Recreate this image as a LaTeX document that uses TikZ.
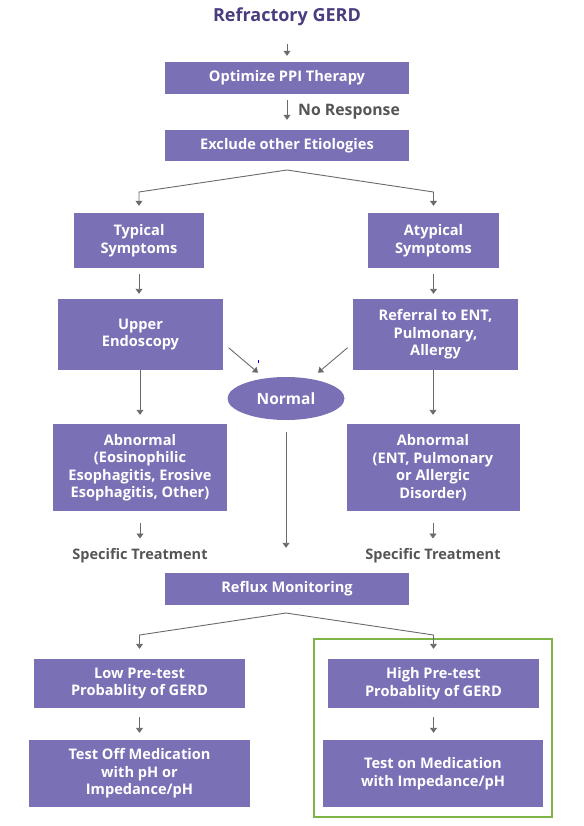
\documentclass[tikz,border=0pt]{standalone}
\usepackage{fontspec}
\setmainfont{Open Sans}
\usetikzlibrary{arrows.meta,shapes.geometric}
\definecolor{boxpurple}{HTML}{7A70B5}
\definecolor{titlepurple}{HTML}{4A3C7E}
\definecolor{arrgray}{HTML}{6A6A6A}
\definecolor{txtgray}{HTML}{555555}
\definecolor{greenframe}{HTML}{7DB347}
\tikzset{
  box/.style={fill=boxpurple, text=white, font=\fontsize{14.6}{17.5}\selectfont\bfseries, align=center, inner sep=0pt},
  arr/.style={draw=arrgray, line width=0.9pt, -{Triangle[length=5pt,width=7pt]}},
  plain/.style={text=txtgray, font=\fontsize{14.5}{17}\selectfont\bfseries, inner sep=0pt},
}
\begin{document}
\begin{tikzpicture}[x=1pt,y=-1pt]
\useasboundingbox (0,0) rectangle (583,826);
% title
\node[text=titlepurple, font=\fontsize{18}{20}\selectfont\bfseries, inner sep=0pt] (title) at (287,17) {Refractory GERD};
\node[box, minimum width=244pt, minimum height=32pt] (opt) at (287,78) {Optimize PPI Therapy};
\node[box, minimum width=244pt, minimum height=31pt] (excl) at (287,145.5) {Exclude other Etiologies};
\node[box, minimum width=130pt, minimum height=55pt] (typ) at (139,240.5) {Typical\\Symptoms};
\node[box, minimum width=131pt, minimum height=55pt] (atyp) at (433.5,240.5) {Atypical\\Symptoms};
\node[box, minimum width=165pt, minimum height=71pt] (upper) at (140.5,334.5) {Upper\\Endoscopy};
\node[box, minimum width=165pt, minimum height=71pt] (refer) at (435.5,334.5) {Referral to ENT,\\Pulmonary,\\Allergy};
\node[ellipse, fill=boxpurple, text=white, font=\fontsize{15.5}{17}\selectfont\bfseries, minimum width=117pt, minimum height=43pt, inner sep=0pt] (normal) at (286,398.5) {Normal};
\node[box, minimum width=174pt, minimum height=87pt] (abnl) at (140,467.5) {Abnormal\\(Eosinophilic\\Esophagitis, Erosive\\Esophagitis, Other)};
\node[box, minimum width=173pt, minimum height=87pt] (abnr) at (433,467.5) {Abnormal\\(ENT, Pulmonary\\or Allergic\\Disorder)};
\node[plain] (specl) at (140,556) {Specific Treatment};
\node[plain] (specr) at (433,556) {Specific Treatment};
\node[box, minimum width=244pt, minimum height=32pt] (reflux) at (287,589) {Reflux Monitoring};
\node[box, minimum width=211pt, minimum height=49pt] (low) at (139.5,683.5) {Low Pre-test\\Probablity of GERD};
\node[box, minimum width=211pt, minimum height=49pt] (high) at (433.5,683.5) {High Pre-test\\Probablity of GERD};
\node[box, minimum width=221pt, minimum height=67pt] (off) at (139.5,773.5) {Test Off Medication\\with pH or\\Impedance/pH};
\node[box, minimum width=220pt, minimum height=67pt] (on) at (433,773.5) {Test on Medication\\with Impedance/pH};
\node[draw=greenframe, line width=1.6pt, minimum width=238pt, minimum height=178pt, inner sep=0pt] (frame) at (433,728) {};
% connectors
\draw[arr, shorten <=18pt, shorten >=6pt] (title) -- (opt);
\draw[arr, shorten <=6pt, shorten >=10pt] (opt) -- (excl);
\node[plain, font=\fontsize{15.8}{17}\selectfont\bfseries, anchor=west] (nores) at (298,112) {No Response};
\coordinate (s1) at (287,170);
\draw[arr, shorten >=7pt] (s1) -- (typ.north |- 0,192) -- (typ.north);
\draw[arr, shorten >=7pt] (s1) -- (atyp.north |- 0,192) -- (atyp.north);
\draw[arr, shorten <=6pt, shorten >=5pt] (typ.south) -- (upper.north -| typ.south);
\draw[arr, shorten <=6pt, shorten >=5pt] (atyp.south) -- (refer.north -| atyp.south);
\coordinate (dl1) at (228.6,347.7);
\coordinate (dl2) at (258,372.7);
\coordinate (dr1) at (347.6,347.7);
\coordinate (dr2) at (318,372.7);
\draw[arr] (dl1) -- (dl2);
\draw[arr] (dr1) -- (dr2);
\draw[blue, line width=1pt] (258.4,359.5) -- (258.4,362.5);
\draw[arr, shorten >=9pt] (upper.south -| abnl.north) -- (abnl.north);
\draw[arr, shorten >=9pt] (refer.south -| abnr.north) -- (abnr.north);
\draw[arr, shorten <=12pt, shorten >=10pt] (abnl) -- (specl);
\draw[arr, shorten <=12pt, shorten >=10pt] (abnr) -- (specr);
\draw[arr, shorten <=12pt, shorten >=25pt] (normal.south) -- (normal.south |- reflux.north);
\coordinate (s2) at (286,613);
\draw[arr, shorten >=10pt] (s2) -- (low.north |- 0,635) -- (low.north);
\draw[arr, shorten >=10pt] (s2) -- (high.north |- 0,635) -- (high.north);
\draw[arr, shorten <=9pt, shorten >=7pt] (low.south) -- (off.north -| low.south);
\draw[arr, shorten <=9pt, shorten >=7pt] (high.south) -- (on.north -| high.south);
\end{tikzpicture}
\end{document}
